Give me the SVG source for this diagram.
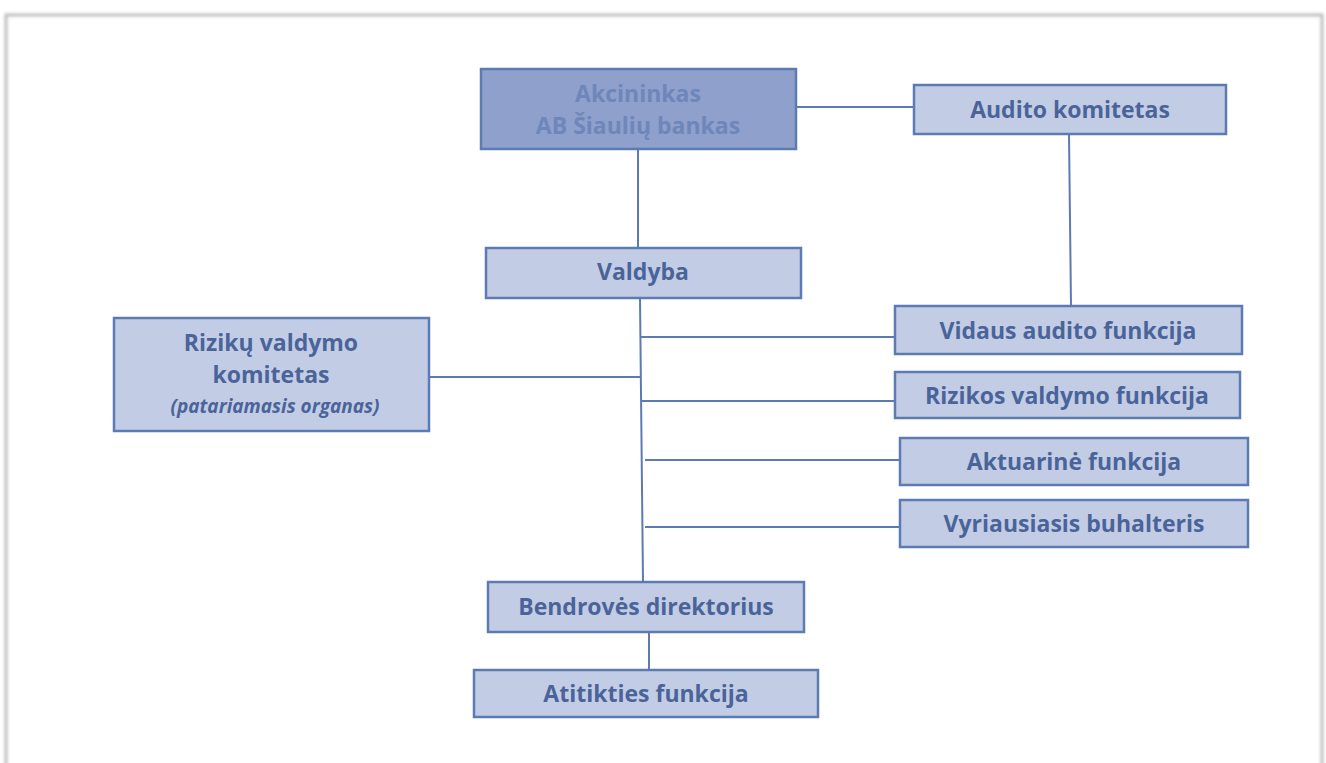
<svg xmlns="http://www.w3.org/2000/svg" width="1326" height="763" viewBox="0 0 1326 763">
<defs>
<filter id="sh" x="-5%" y="-5%" width="110%" height="110%"><feGaussianBlur stdDeviation="1.5"/></filter>
</defs>
<style>
.b{fill:#c2cde5;stroke:#5c7bb3;stroke-width:2.5}
.d{fill:#8ea0cb;stroke:#5c7bb3;stroke-width:2.5}
.t{font-family:"Open Sans",Lato,sans-serif;font-weight:bold;font-size:23px;fill:#4a6499;text-anchor:middle}
.td{fill:#6e86b9}
.i{font-style:italic;font-size:19px}
.c{stroke:#5c7bb3;stroke-width:2;fill:none}
</style>
<rect x="0" y="0" width="1326" height="763" fill="#ffffff"/>
<rect x="6" y="15" width="1316" height="760" fill="none" stroke="#bdbdbd" stroke-width="3" filter="url(#sh)"/>
<g id="connectors">
<line class="c" x1="796" y1="107" x2="914" y2="107"/>
<line class="c" x1="638" y1="149" x2="638" y2="248" stroke-width="1.2" stroke="#8ea3cc"/>
<line class="c" x1="1069" y1="134" x2="1071" y2="306"/>
<line class="c" x1="640" y1="298" x2="643" y2="582"/>
<line class="c" x1="640" y1="337" x2="895" y2="337"/>
<line class="c" x1="429" y1="377" x2="641" y2="377"/>
<line class="c" x1="642" y1="401" x2="895" y2="401"/>
<line class="c" x1="645" y1="460" x2="900" y2="460"/>
<line class="c" x1="645" y1="527" x2="900" y2="527"/>
<line class="c" x1="649" y1="632" x2="649" y2="670"/>
</g>
<g id="akcininkas"><rect class="d" x="481" y="69" width="315" height="80"/><text class="t td" x="638" y="102">Akcininkas</text><text class="t td" x="638" y="134">AB Šiaulių bankas</text></g>
<g id="audito-komitetas"><rect class="b" x="914" y="85" width="312" height="49"/><text class="t" x="1070" y="118">Audito komitetas</text></g>
<g id="valdyba"><rect class="b" x="486" y="248" width="315" height="50"/><text class="t" x="643" y="280">Valdyba</text></g>
<g id="riziku-komitetas"><rect class="b" x="114" y="318" width="315" height="113"/><text class="t" x="271" y="351">Rizikų valdymo</text><text class="t" x="271" y="383">komitetas</text><text class="t i" x="275" y="413">(patariamasis organas)</text></g>
<g id="vidaus-audito"><rect class="b" x="895" y="306" width="347" height="48"/><text class="t" x="1068" y="339">Vidaus audito funkcija</text></g>
<g id="rizikos-valdymo"><rect class="b" x="895" y="372" width="345" height="46"/><text class="t" x="1067" y="404">Rizikos valdymo funkcija</text></g>
<g id="aktuarine"><rect class="b" x="900" y="438" width="348" height="47"/><text class="t" x="1074" y="470">Aktuarinė funkcija</text></g>
<g id="vyriausiasis"><rect class="b" x="900" y="500" width="348" height="47"/><text class="t" x="1074" y="532">Vyriausiasis buhalteris</text></g>
<g id="direktorius"><rect class="b" x="488" y="582" width="316" height="50"/><text class="t" x="646" y="615">Bendrovės direktorius</text></g>
<g id="atitikties"><rect class="b" x="474" y="670" width="344" height="47"/><text class="t" x="646" y="702">Atitikties funkcija</text></g>
</svg>
